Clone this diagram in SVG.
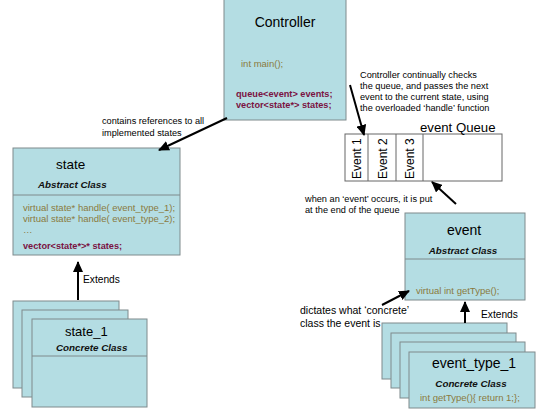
<svg xmlns="http://www.w3.org/2000/svg" width="540" height="409" viewBox="0 0 540 409">
<defs>
<marker id="ah" markerUnits="userSpaceOnUse" markerWidth="12" markerHeight="10" refX="10" refY="5" orient="auto">
<path d="M0,0 L11,5 L0,10 z" fill="#000"/>
</marker>
<style>
.box{fill:#b4dde3;stroke:#7f8a8c;stroke-width:1}
.t{font-family:"Liberation Sans",Arial,sans-serif;fill:#000}
.note{font-family:"Liberation Sans",Arial,sans-serif;font-size:9.2px;fill:#000}
.meth{font-family:"Liberation Sans",Arial,sans-serif;font-size:9.5px;fill:#8a7a40}
.bold{font-family:"Liberation Sans",Arial,sans-serif;font-size:9.2px;font-weight:bold;fill:#7a1242}
.sub{font-family:"Liberation Sans",Arial,sans-serif;font-size:9.8px;font-weight:bold;font-style:italic;fill:#111}
.arr{stroke:#000;stroke-width:2;fill:none;marker-end:url(#ah)}
.q{fill:#fff;stroke:#666;stroke-width:1}
</style>
</defs>
<rect width="540" height="409" fill="#fff"/>

<g id="controller">
<rect class="box" x="224" y="-1" width="122" height="121"/>
<text class="t" x="285" y="27" font-size="14" text-anchor="middle">Controller</text>
<text class="meth" x="241" y="67" font-size="9">int main();</text>
<text class="bold" x="236" y="97">queue&lt;event&gt; events;</text>
<text class="bold" x="236" y="108">vector&lt;state*&gt; states;</text>
</g>

<g id="state">
<rect class="box" x="13" y="148" width="167" height="107"/>
<line x1="13" y1="195" x2="180" y2="195" stroke="#7f8a8c"/>
<text class="t" x="56" y="169" font-size="13.5">state</text>
<text class="sub" x="38" y="188">Abstract Class</text>
<text class="meth" x="23" y="211">virtual state* handle( event_type_1);</text>
<text class="meth" x="23" y="222">virtual state* handle( event_type_2);</text>
<text class="meth" x="23" y="233">…</text>
<text class="bold" x="23" y="249">vector&lt;state*&gt;* states;</text>
</g>

<g id="state_1">
<rect class="box" x="13" y="301" width="106" height="87"/>
<rect class="box" x="22" y="310" width="106" height="87"/>
<rect class="box" x="32" y="319" width="115" height="88"/>
<line x1="32" y1="356" x2="147" y2="356" stroke="#7f8a8c"/>
<text class="t" x="65" y="336" font-size="13">state_1</text>
<text class="sub" x="56" y="351">Concrete Class</text>
</g>

<g id="queue">
<rect class="q" x="345" y="134" width="157" height="47"/>
<line x1="368" y1="134" x2="368" y2="181" stroke="#666"/>
<line x1="396" y1="134" x2="396" y2="181" stroke="#666"/>
<line x1="423" y1="134" x2="423" y2="181" stroke="#666"/>
<text class="t" x="420" y="132" font-size="13.2">event Queue</text>
<text class="t" font-size="12" transform="translate(361,179) rotate(-90)">Event 1</text>
<text class="t" font-size="12" transform="translate(387,179) rotate(-90)">Event 2</text>
<text class="t" font-size="12" transform="translate(414,179) rotate(-90)">Event 3</text>
</g>

<g id="event">
<rect class="box" x="405" y="213" width="120" height="87"/>
<line x1="405" y1="259" x2="525" y2="259" stroke="#7f8a8c"/>
<text class="t" x="464" y="235" font-size="14" text-anchor="middle">event</text>
<text class="sub" x="463" y="254" text-anchor="middle">Abstract Class</text>
<text class="meth" x="416" y="294" font-size="9">virtual int getType();</text>
</g>

<g id="event_type_1">
<rect class="box" x="382" y="323" width="125" height="56"/>
<rect class="box" x="391" y="333" width="125" height="55"/>
<rect class="box" x="400" y="342" width="125" height="56"/>
<rect class="box" x="409" y="352" width="126" height="56"/>
<text class="t" x="474" y="368" font-size="14" text-anchor="middle">event_type_1</text>
<text class="sub" x="471" y="387" text-anchor="middle">Concrete Class</text>
<text class="meth" x="420" y="401">int getType(){ return 1;};</text>
</g>

<g id="notes">
<text class="note" x="102" y="124">contains references to all</text>
<text class="note" x="102" y="136">implemented states</text>
<text class="note" x="360" y="78">Controller continually checks</text>
<text class="note" x="360" y="89">the queue, and passes the next</text>
<text class="note" x="360" y="100">event to the current state, using</text>
<text class="note" x="360" y="111">the overloaded ‘handle’ function</text>
<text class="note" x="305" y="202">when an ‘event’ occurs, it is put</text>
<text class="note" x="305" y="213">at the end of the queue</text>
<text class="t" x="300" y="314" font-size="10.5">dictates what ‘concrete’</text>
<text class="t" x="300" y="327" font-size="10.5">class the event is</text>
<text class="t" x="83" y="283" font-size="10.2">Extends</text>
<text class="t" x="481" y="318" font-size="10.2">Extends</text>
</g>

<g id="connectors">
<line class="arr" x1="227" y1="118" x2="159" y2="150"/>
<line class="arr" x1="350" y1="85" x2="364" y2="135"/>
<line class="arr" x1="456" y1="204" x2="432" y2="182"/>
<line class="arr" x1="382" y1="305" x2="409" y2="291"/>
<line class="arr" x1="78" y1="300" x2="78" y2="262"/>
<line class="arr" x1="465" y1="323" x2="465" y2="302"/>
</g>
</svg>
